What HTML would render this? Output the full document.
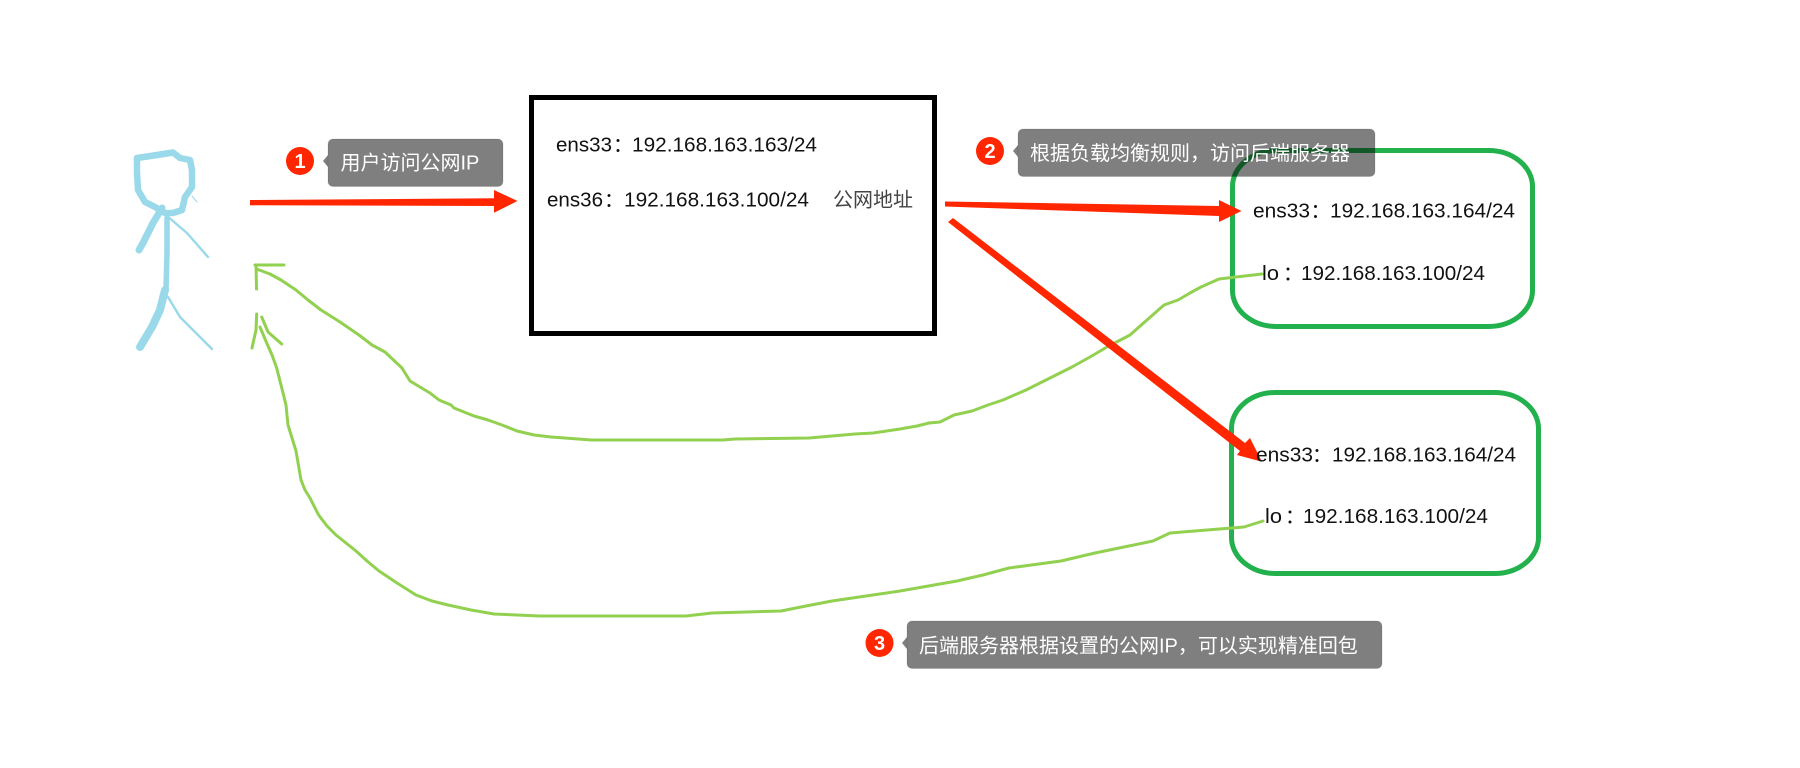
<!DOCTYPE html>
<html><head><meta charset="utf-8"><style>
html,body{margin:0;padding:0;background:#fff;width:1800px;height:768px;overflow:hidden}
svg{display:block}
text{font-family:"Liberation Sans","Noto Sans CJK SC",sans-serif;fill:#111}
.c{font-size:20px;fill:#fff}
.n{font-size:20px;font-weight:bold;fill:#fff;text-anchor:middle}
.g{fill:none;stroke:#92d050;stroke-width:3;stroke-linejoin:round;stroke-linecap:round}
.b{fill:none;stroke:#99d9ea;stroke-linejoin:round;stroke-linecap:round}
.o{fill:#000;fill-opacity:.5;stroke:#000;stroke-opacity:.1;stroke-width:1}
</style></head><body>
<svg width="1800" height="768" viewBox="0 0 1800 768" xmlns="http://www.w3.org/2000/svg">
<rect x="531.5" y="97.5" width="403" height="236" fill="none" stroke="#000" stroke-width="5"/>
<rect x="1232.5" y="150.5" width="300" height="176" rx="44" ry="36" fill="none" stroke="#22b14c" stroke-width="5"/>
<rect x="1231.5" y="392.5" width="307" height="181" rx="44" ry="36" fill="none" stroke="#22b14c" stroke-width="5"/>

<polyline class="g" points="255,265 284,265"/>
<polyline class="g" points="256,265 256.5,289"/>
<polyline class="g" points="256.5,269 270,274 281,280 296,290 308,300 321,310 340,322 359,335 372,345 385,352 402,368 410,381 420,387 430,393 439,400 451,405 454,408 474,416 488,420 502,425 517,431 534,435 551,437 565,438 591,440 723,440 735,439 809,438 832,436 855,434 873,433 900,429 917,426 929,423 940,422 954,415 972,411 988,405 1003,400 1026,390 1050,378 1072,367 1090,357 1107,347 1130,335 1147,320 1164,305 1178,300 1190,293 1201,287 1219,279 1236,277 1262,274"/>
<polyline class="g" points="256.7,314 256,330 252,348"/>
<polyline class="g" points="261.7,317 268,332 281.7,344"/>
<polyline class="g" points="260,327 266.7,343 272,355 276.7,368 281,385 286,405 288,425 292,438 296,451 301,480 305,490 310,498 318.6,515 327,526 336,535 346,543 356,551 367,561 379,571 397,583 416,595 432,601 448,605 471,610 494,614 517,615 540,616 686,616 712,613 781,611 806,606 832,601 866,596 900,591 957,581 983,575 1009,568 1061,561 1095,553 1124,547 1153,541 1170,533 1207,530 1244,527 1263,521"/>

<polyline class="b" stroke-width="6.5" points="137,158 157,155 173,152.5 180,158 190,160 192,170 192,187 185,197 182,210 173,213 165,213 155,207 145,202 138,190 137,173 137,158"/>
<polyline class="b" stroke-width="7" points="162,208 153,223 143,243 139,250"/>
<polyline class="b" stroke-width="5.5" points="167,218 167,253 166,290"/>
<polyline class="b" stroke-width="8" points="165,290 160,310 152,327 140,347"/>
<polyline class="b" stroke-width="2.4" points="167,216 187,233 208,257"/>
<polyline class="b" stroke-width="2.4" points="168,297 180,317 212,349"/>
<polyline class="b" stroke-width="1" points="192,196 197,202"/>

<polygon fill="#ff2600" points="250,200 494,198.3 494,190 517.5,201 494,212.7 494,206 250,205.3"/>
<polygon fill="#ff2600" points="945,201.5 1219,206 1219,200 1241.5,211 1219,222 1219,216 945,206.5"/>
<polygon fill="#ff2600" points="953,218 1245,443 1250,438 1262,461.7 1237,455 1240,451 948,222"/>

<text x="556" y="151.5" font-size="20.5" textLength="56" lengthAdjust="spacingAndGlyphs">ens33</text>
<text x="613" y="151.5" font-size="20">：</text>
<text x="632" y="151.5" font-size="20.5" textLength="185" lengthAdjust="spacingAndGlyphs">192.168.163.163/24</text>
<text x="547" y="206.5" font-size="20.5" textLength="56" lengthAdjust="spacingAndGlyphs">ens36</text>
<text x="604" y="206.5" font-size="20">：</text>
<text x="624" y="206.5" font-size="20.5" textLength="185" lengthAdjust="spacingAndGlyphs">192.168.163.100/24</text>
<text x="833" y="206.5" font-size="20" style="fill:#444">公网地址</text>

<text x="1253" y="217.5" font-size="20.5" textLength="57" lengthAdjust="spacingAndGlyphs">ens33</text>
<text x="1310.5" y="217.5" font-size="20">：</text>
<text x="1330" y="217.5" font-size="20.5" textLength="185" lengthAdjust="spacingAndGlyphs">192.168.163.164/24</text>
<text x="1262" y="280" font-size="20.5" textLength="17" lengthAdjust="spacingAndGlyphs">lo</text>
<text x="1283" y="280" font-size="20">：</text>
<text x="1301" y="280" font-size="20.5" textLength="184" lengthAdjust="spacingAndGlyphs">192.168.163.100/24</text>

<text x="1256" y="461.7" font-size="20.5" textLength="57" lengthAdjust="spacingAndGlyphs">ens33</text>
<text x="1312" y="461.7" font-size="20">：</text>
<text x="1332" y="461.7" font-size="20.5" textLength="184" lengthAdjust="spacingAndGlyphs">192.168.163.164/24</text>
<text x="1265" y="523" font-size="20.5" textLength="17" lengthAdjust="spacingAndGlyphs">lo</text>
<text x="1285" y="523" font-size="20">：</text>
<text x="1303" y="523" font-size="20.5" textLength="185" lengthAdjust="spacingAndGlyphs">192.168.163.100/24</text>

<rect class="o" x="328" y="139" width="175" height="47.5" rx="5"/>
<polygon points="328,155 323,161 328,167" fill="#000" fill-opacity=".5"/>
<circle cx="300" cy="161" r="14" fill="#ff2600"/>
<text class="n" x="300" y="168">1</text>
<text class="c" x="340.5" y="169.5">用户访问公网IP</text>

<rect class="o" x="1018" y="129" width="357" height="47.5" rx="5"/>
<polygon points="1018,145 1013,151 1018,157" fill="#000" fill-opacity=".5"/>
<circle cx="990" cy="151" r="14" fill="#ff2600"/>
<text class="n" x="990" y="158">2</text>
<text class="c" x="1030" y="160">根据负载均衡规则，访问后端服务器</text>

<rect class="o" x="907" y="621" width="475" height="47.5" rx="5"/>
<polygon points="907,637 902,643 907,649" fill="#000" fill-opacity=".5"/>
<circle cx="879.5" cy="643" r="14" fill="#ff2600"/>
<text class="n" x="879.5" y="650">3</text>
<text class="c" x="919" y="652.5">后端服务器根据设置的公网IP，可以实现精准回包</text>
</svg>
</body></html>
